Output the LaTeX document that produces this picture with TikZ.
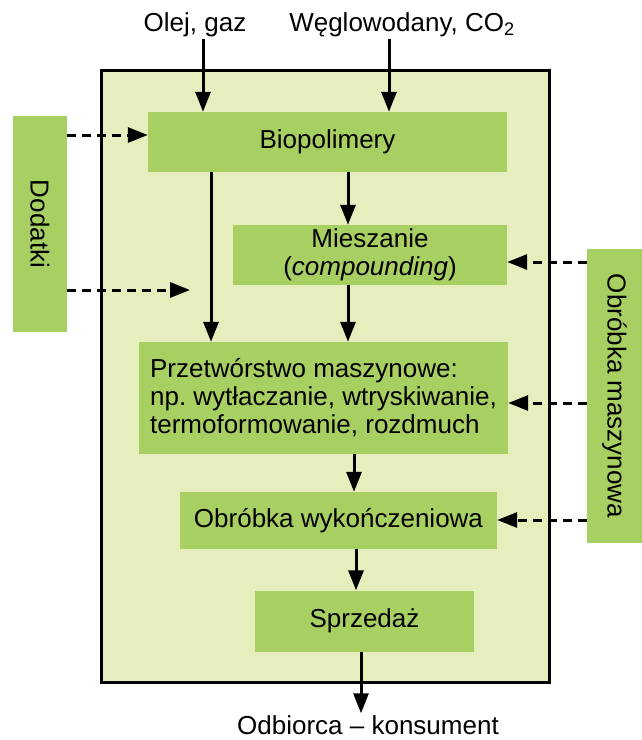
\documentclass[tikz,border=0pt]{standalone}
\usepackage{fontspec}
\setmainfont{Liberation Sans}
\usepackage{graphicx}
\usepackage{xcolor}
\usetikzlibrary{arrows.meta}
\definecolor{outerfill}{RGB}{230,238,190}
\definecolor{boxfill}{RGB}{168,207,98}

\begin{document}
\begin{tikzpicture}[x=1pt, y=-1pt,
	font=\fontsize{26}{28}\selectfont,
	stage/.style={fill=boxfill, inner sep=0pt},
	label/.style={inner sep=2pt},
	flow/.style={line width=3pt, -{Triangle[length=20pt,width=15pt]}},
	extra/.style={flow, dash pattern=on 9pt off 6pt}]
	\useasboundingbox (0,0) rectangle (642,740);
	\draw[fill=outerfill, line width=3pt] (101,70) rectangle (549,682);
	\node[stage, minimum width=359pt, minimum height=60pt] (bio) at (327.5,142) {Biopolimery};
	\node[stage, minimum width=274pt, minimum height=60pt, align=center] (mix) at (370,255) {Mieszanie\\(\textit{compounding})};
	\node[stage, minimum width=369pt, minimum height=112pt, align=left] (proc) at (323.5,398) {Przetwórstwo maszynowe:\\np.\ wytłaczanie, wtryskiwanie,\\termoformowanie, rozdmuch};
	\node[stage, minimum width=317pt, minimum height=57pt] (fin) at (338.5,520.5) {Obróbka wykończeniowa};
	\node[stage, minimum width=219pt, minimum height=61pt] (sale) at (364.5,621) {Sprzedaż};
	\node[stage, minimum width=54pt, minimum height=216pt] (add) at (40,224) {\rotatebox{-90}{Dodatki}};
	\node[stage, minimum width=55pt, minimum height=294pt] (mach) at (614.5,396) {\rotatebox{-90}{Obróbka maszynowa}};
	\node[label] (oil) at (195,25) {Olej, gaz};
	\node[label] (carb) at (402,25) {Węglowodany, CO\textsubscript{2}};
	\node[label] (cons) at (368,725) {Odbiorca – konsument};
	\coordinate (gap) at (190,290);
	% glowny przeplyw
	\draw[flow] (oil.south -| 203,0) -- (bio.north -| 203,0);
	\draw[flow] (carb.south -| 389,0) -- (bio.north -| 389,0);
	\draw[flow] (bio.south -| 211,0) -- (proc.north -| 211,0);
	\draw[flow] (bio.south -| 348,0) -- (mix.north -| 348,0);
	\draw[flow] (mix.south -| 348,0) -- (proc.north -| 348,0);
	\draw[flow] (proc.south -| 354,0) -- (fin.north -| 354,0);
	\draw[flow] (fin.south -| 356,0) -- (sale.north -| 356,0);
	\draw[flow] (sale.south -| 361,0) -- (cons.north -| 361,0);
	% dodatki i obrobka
	\draw[extra] (add.east |- 0,135) -- (bio.west |- 0,135);
	\draw[extra] (add.east |- gap) -- (gap);
	\draw[extra] (mach.west |- 0,262) -- (mix.east |- 0,262);
	\draw[extra] (mach.west |- 0,403) -- (proc.east |- 0,403);
	\draw[extra] (mach.west |- 0,520) -- (fin.east |- 0,520);
\end{tikzpicture}
\end{document}
